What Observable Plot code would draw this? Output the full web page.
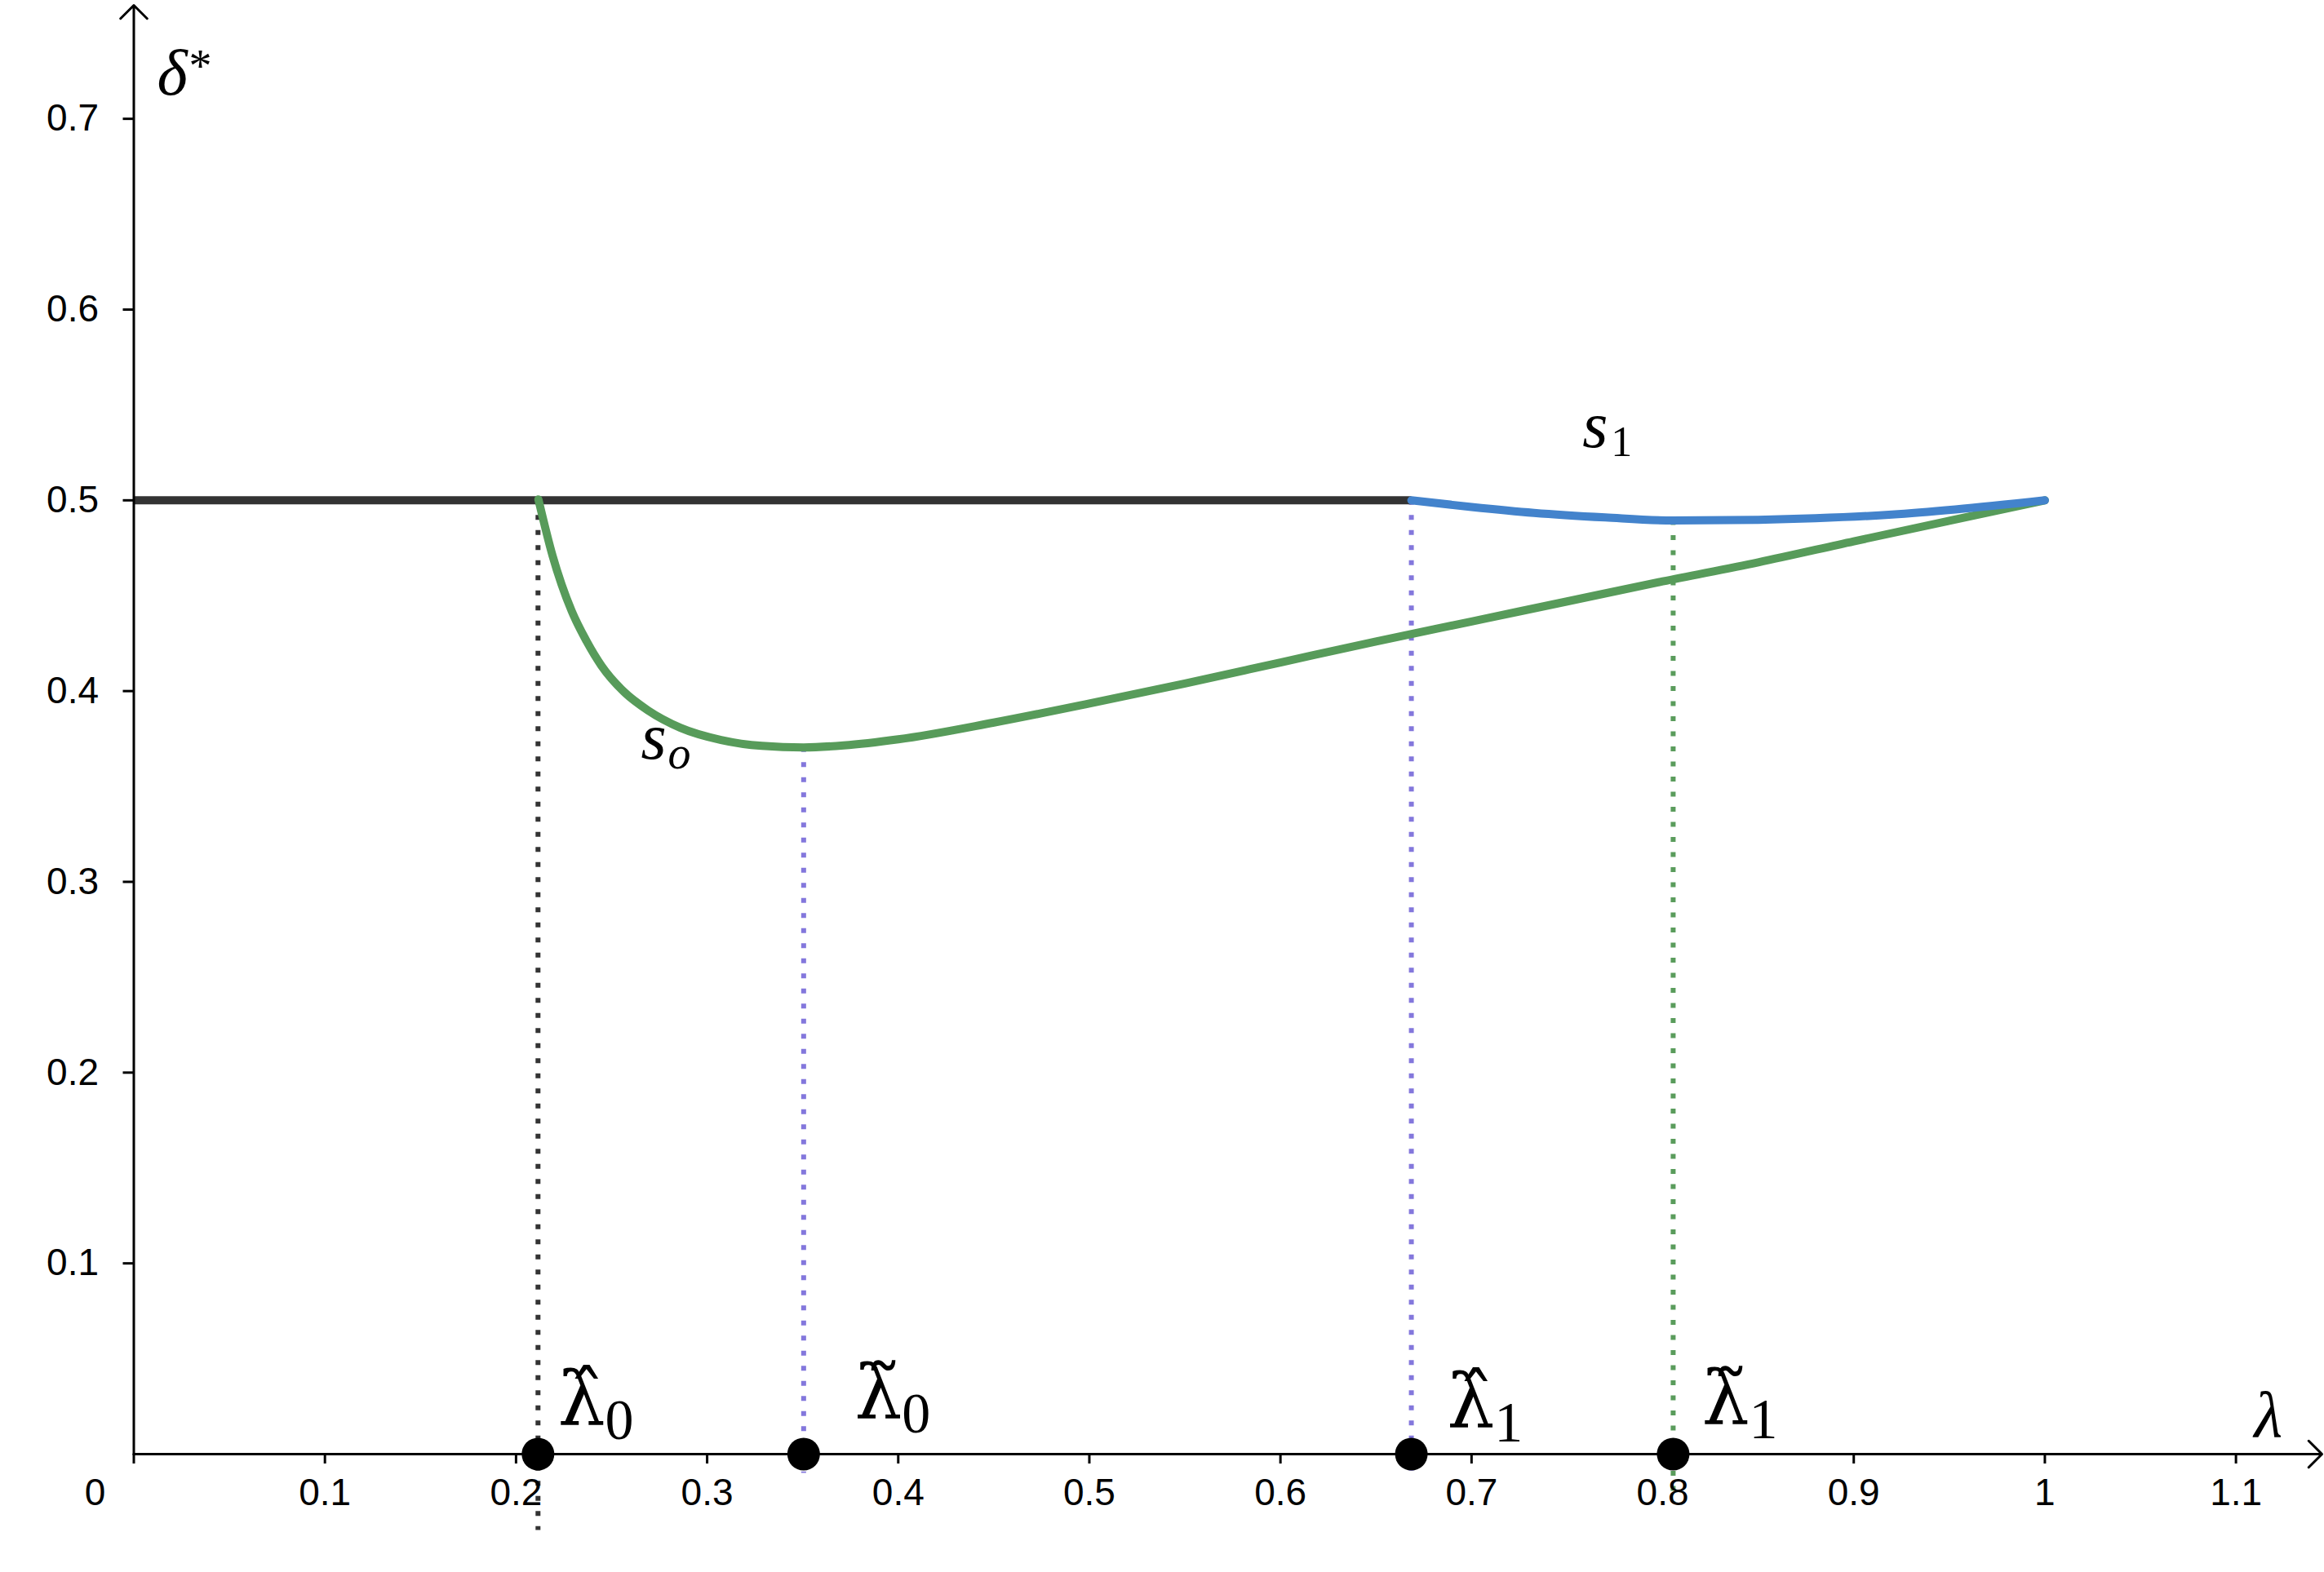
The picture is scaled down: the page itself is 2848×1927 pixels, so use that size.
<!DOCTYPE html>
<html>
<head>
<meta charset="utf-8">
<script src="https://cdn.jsdelivr.net/npm/d3@7"></script>
<script src="https://cdn.jsdelivr.net/npm/@observablehq/plot@0.6"></script>
<style>
  html, body { margin: 0; padding: 0; background: #ffffff; }
  #chart svg { display: block; }
</style>
</head>
<body>
<div id="chart"></div>
<script>
// ---------- data ----------
const xTicks = [0, 0.1, 0.2, 0.3, 0.4, 0.5, 0.6, 0.7, 0.8, 0.9, 1, 1.1];
const xTickLabels = ["", "0.1", "0.2", "0.3", "0.4", "0.5", "0.6", "0.7", "0.8", "0.9", "1", "1.1"];
const yTicks = [0.1, 0.2, 0.3, 0.4, 0.5, 0.6, 0.7];
const yTickLabels = ["0.1", "0.2", "0.3", "0.4", "0.5", "0.6", "0.7"];
const xMax = 1.145;
const yMax = 0.7595;

// flat segment delta* = 0.5
const flatLambda = [0, 0.6685];
const flatDelta = [0.5, 0.5];

// s_o (green)
const soLambda = [0.2117, 0.2191, 0.2291, 0.2369, 0.2447, 0.2561, 0.2689, 0.2860, 0.3073, 0.3287, 0.3505, 0.3714, 0.40, 0.45, 0.50, 0.55, 0.60, 0.65, 0.70, 0.75, 0.80, 0.85, 0.90, 0.95, 1.00];
const soDelta  = [0.5005, 0.4710, 0.4420, 0.4262, 0.4133, 0.4000, 0.3900, 0.3808, 0.3744, 0.3713, 0.3705, 0.3715, 0.3747, 0.3835, 0.3935, 0.4040, 0.4150, 0.4260, 0.4365, 0.4470, 0.4575, 0.4675, 0.4785, 0.4893, 0.5000];

// s_1 (blue)
const s1Lambda = [0.6685, 0.70, 0.7327, 0.77, 0.8055, 0.85, 0.8798, 0.92, 0.9532, 1.00];
const s1Delta  = [0.5000, 0.4965, 0.4934, 0.4910, 0.4894, 0.4898, 0.4906, 0.4925, 0.4952, 0.5000];

// marked points on the lambda axis
const markerLambda = [0.2115, 0.3505, 0.6685, 0.8055];
const markerTop    = [0.5, 0.3705, 0.5, 0.4894];
const markerBottom = [-0.04, -0.01, -0.01, -0.025];
const markerText   = ["λ\u0302", "λ\u0303", "λ\u0302", "λ\u0303"];   // λ̂ λ̃ λ̂ λ̃
const markerSub    = ["0", "0", "1", "1"];
const labelLambda  = [0.2218, 0.3772, 0.6872, 0.8205];
const labelDelta   = [0.0150, 0.0188, 0.0137, 0.0158];

// curve labels
const curveLabelLambda = [0.2654, 0.758];
const curveLabelDelta  = [0.3644, 0.5278];
const curveLabelSub    = ["o", "1"];

// axis titles
const axisTitleText   = ["δ", "λ"];
const axisTitleSup    = ["*", ""];
const axisTitleLambda = [0.0122, 1.1096];
const axisTitleDelta  = [0.7126, 0.0094];

// ---------- styles ----------
const markerColors = ["#333333", "#8377dc", "#8377dc", "#5a9c5c"];
const GREEN = "#579b5a", BLUE = "#4383cc", DARK = "#333333";
const SANS = "Liberation Sans, Arial, Helvetica, sans-serif";
const SERIF = "Liberation Serif, Times New Roman, serif";
const MARKSERIF = "DejaVu Serif, Liberation Serif, serif";

const idx = a => a.map((_, i) => i);
const mi = idx(markerLambda);

const chart = Plot.plot({
  width: 2848,
  height: 1927,
  marginLeft: 163.5,
  marginRight: 3,
  marginTop: 6,
  marginBottom: 145,
  x: { domain: [0, xMax] },
  y: { domain: [0, yMax] },
  color: { type: "identity" },
  style: { background: "#ffffff", overflow: "visible" },
  marks: [
    // dotted guide lines
    Plot.ruleX(mi, {
      x: i => markerLambda[i], y1: i => markerTop[i], y2: i => markerBottom[i],
      stroke: i => markerColors[i], strokeWidth: 6, strokeDasharray: "6,12.5"
    }),
    // curves
    Plot.line(idx(flatLambda), { x: i => flatLambda[i], y: i => flatDelta[i], stroke: DARK, strokeWidth: 10, strokeLinecap: "butt" }),
    Plot.line(idx(soLambda), { x: i => soLambda[i], y: i => soDelta[i], stroke: GREEN, strokeWidth: 10, curve: "monotone-x", strokeLinecap: "round" }),
    Plot.line(idx(s1Lambda), { x: i => s1Lambda[i], y: i => s1Delta[i], stroke: BLUE, strokeWidth: 10, curve: "monotone-x", strokeLinecap: "round" }),
    // axes lines with arrows
    Plot.arrow([0], { x1: 0, y1: 0, x2: xMax, y2: 0, stroke: "black", strokeWidth: 3, headAngle: 90, headLength: 11.5 }),
    Plot.arrow([0], { x1: 0, y1: 0, x2: 0, y2: yMax, stroke: "black", strokeWidth: 3, headAngle: 90, headLength: 11.5 }),
    // ticks and tick labels
    Plot.axisX({
      ticks: xTicks, tickFormat: d => xTickLabels[xTicks.indexOf(d)],
      tickSize: 12, tickPadding: 18, fontSize: 46, fontFamily: SANS,
      stroke: "black", fill: "black", strokeWidth: 3, label: null
    }),
    Plot.axisY({
      ticks: yTicks, tickFormat: d => yTickLabels[yTicks.indexOf(d)],
      tickSize: 13, tickPadding: 30, fontSize: 46, fontFamily: SANS,
      stroke: "black", fill: "black", strokeWidth: 3, label: null
    }),
    Plot.text(["0"], { x: 0, y: 0, text: d => d, dx: -47.5, dy: 30, textAnchor: "middle", lineAnchor: "top", fontSize: 46, fontFamily: SANS, fill: "black" }),
    // marked points
    Plot.dot(mi, { x: i => markerLambda[i], y: 0, r: 20, fill: "black", stroke: "none" }),
    // marker labels (accented lambda; subscript added as tspan below)
    Plot.text(mi, { x: i => labelLambda[i], y: i => labelDelta[i], text: i => markerText[i], textAnchor: "start", lineAnchor: "bottom", fontSize: 92, fontFamily: MARKSERIF, fill: "black", ariaLabel: () => "marker-labels" }),
    // curve labels
    Plot.text(idx(curveLabelLambda), { x: i => curveLabelLambda[i], y: i => curveLabelDelta[i], text: () => "s", textAnchor: "start", lineAnchor: "bottom", fontSize: 80, fontFamily: SERIF, fontStyle: "italic", fill: "black", ariaLabel: () => "curve-labels" }),
    // axis titles
    Plot.text(idx(axisTitleText), { x: i => axisTitleLambda[i], y: i => axisTitleDelta[i], text: i => axisTitleText[i], textAnchor: "start", lineAnchor: "bottom", fontSize: 80, fontFamily: SERIF, fontStyle: "italic", fill: "black", ariaLabel: () => "axis-titles" })
  ]
});

// add subscripts / superscripts as tspans inside the same text element
const SVGNS = "http://www.w3.org/2000/svg";
function addParts(label, partsFor) {
  const nodes = chart.querySelectorAll(`text[aria-label="${label}"], g[aria-label="${label}"] text`);
  nodes.forEach((el, j) => {
    const bx = +(el.getAttribute("x") || 0), by = +(el.getAttribute("y") || 0);
    for (const p of partsFor(j)) {
      if (!p.text) continue;
      const t = document.createElementNS(SVGNS, "tspan");
      t.setAttribute("x", bx + p.dx);
      t.setAttribute("y", by + p.dy);
      t.setAttribute("font-size", p.size);
      t.setAttribute("font-style", p.italic ? "italic" : "normal");
      if (p.family) t.setAttribute("font-family", p.family);
      t.textContent = p.text;
      el.appendChild(t);
    }
  });
}
addParts("marker-labels", j => [
  { text: markerSub[j], dx: 58, dy: 17, size: 70, italic: false, family: SERIF }
]);
addParts("curve-labels", j => [
  { text: curveLabelSub[j], dx: j === 0 ? 33 : 35, dy: j === 0 ? 12 : 11, size: j === 0 ? 56 : 52, italic: j === 0 }
]);
addParts("axis-titles", j => [
  { text: axisTitleSup[j], dx: 39, dy: -16, size: 56, italic: false }
]);

document.getElementById("chart").appendChild(chart);
</script>
</body>
</html>
